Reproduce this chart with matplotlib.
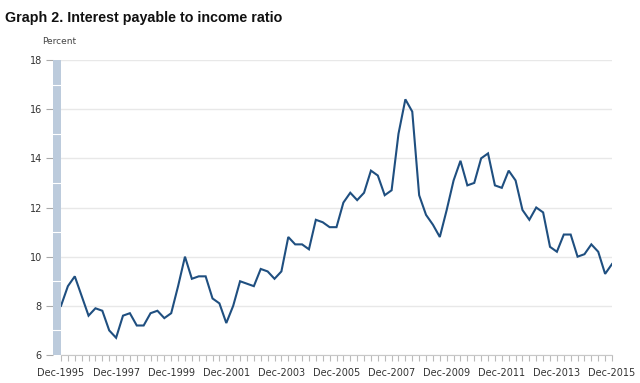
import matplotlib
matplotlib.use("Agg")
import matplotlib.pyplot as plt
import matplotlib.transforms as mtransforms
from matplotlib.patches import Rectangle
import numpy as np

# Quarterly data, Dec-1995 .. Dec-2015
values = [
    8.0, 8.8, 9.2, 8.4, 7.6, 7.9, 7.8, 7.0, 6.7, 7.6,
    7.7, 7.2, 7.2, 7.7, 7.8, 7.5, 7.7, 8.8, 10.0, 9.1,
    9.2, 9.2, 8.3, 8.1, 7.3, 8.0, 9.0, 8.9, 8.8, 9.5,
    9.4, 9.1, 9.4, 10.8, 10.5, 10.5, 10.3, 11.5, 11.4, 11.2,
    11.2, 12.2, 12.6, 12.3, 12.6, 13.5, 13.3, 12.5, 12.7, 15.0,
    16.4, 15.9, 12.5, 11.7, 11.3, 10.8, 11.9, 13.1, 13.9, 12.9,
    13.0, 14.0, 14.2, 12.9, 12.8, 13.5, 13.1, 11.9, 11.5, 12.0,
    11.8, 10.4, 10.2, 10.9, 10.9, 10.0, 10.1, 10.5, 10.2, 9.3,
    9.7,
]
tick_labels = ["Dec-1995", "Dec-1997", "Dec-1999", "Dec-2001", "Dec-2003",
               "Dec-2005", "Dec-2007", "Dec-2009", "Dec-2011", "Dec-2013",
               "Dec-2015"]
y_ticks = [6, 8, 10, 12, 14, 16, 18]

W, H = 640, 383
fig = plt.figure(figsize=(W / 100, H / 100), dpi=100)
ax = fig.add_axes([61 / W, 1 - 355 / H, (612 - 61) / W, (355 - 60) / H])

x = np.arange(len(values))
ax.plot(x, values, color="#1f4f80", lw=1.5, solid_joinstyle="miter")

ax.set_xlim(0, len(values) - 1)
ax.set_ylim(6, 18)

# grid
ax.set_yticks(y_ticks)
ax.grid(axis="y", color="#e8e8e8", lw=1.0)
ax.set_axisbelow(True)

# spines
for s in ["top", "right"]:
    ax.spines[s].set_visible(False)
ax.spines["left"].set_position(("outward", 8 * 0.72))
ax.spines["left"].set_visible(False)
ax.spines["bottom"].set_color("#c8c8c8")
ax.spines["bottom"].set_linewidth(0.8)

# x ticks
ax.set_xticks(np.arange(0, len(values), 8))
ax.set_xticklabels(tick_labels, fontsize=7, color="#333333", family="DejaVu Sans")
ax.set_xticks(x, minor=True)
ax.tick_params(axis="x", which="both", length=4, color="#bbbbbb", width=0.8, pad=5)

# y ticks
ax.tick_params(axis="y", which="both", length=5, color="#aaaaaa", width=0.8, pad=3,
               labelsize=7, labelcolor="#333333")
for lab in ax.get_yticklabels():
    lab.set_family("DejaVu Sans")

# light-blue bar at the left edge
blend = mtransforms.blended_transform_factory(
    mtransforms.offset_copy(ax.transAxes, fig=fig, x=-8, y=0, units="dots"), ax.transData)
bar = Rectangle((0, 6), 8 / 551, 12, transform=blend, color="#bccbdc",
                clip_on=False, zorder=1, lw=0)
ax.add_patch(bar)
bar.set_transform(blend)
for yv in [7, 9, 11, 13, 15, 17]:
    ax.plot([0, 8 / 551], [yv, yv], transform=blend, color="white", lw=0.8,
            clip_on=False, zorder=2)

fig.text(5 / W, 1 - 18 / H, "Graph 2. Interest payable to income ratio",
         fontsize=10.3, fontweight="bold", family="Liberation Sans",
         ha="left", va="center", color="#111111")
fig.text(42 / W, 1 - 41 / H, "Percent", fontsize=6.5, family="DejaVu Sans",
         ha="left", va="center", color="#444444")

fig.savefig("out.png", dpi=100)
